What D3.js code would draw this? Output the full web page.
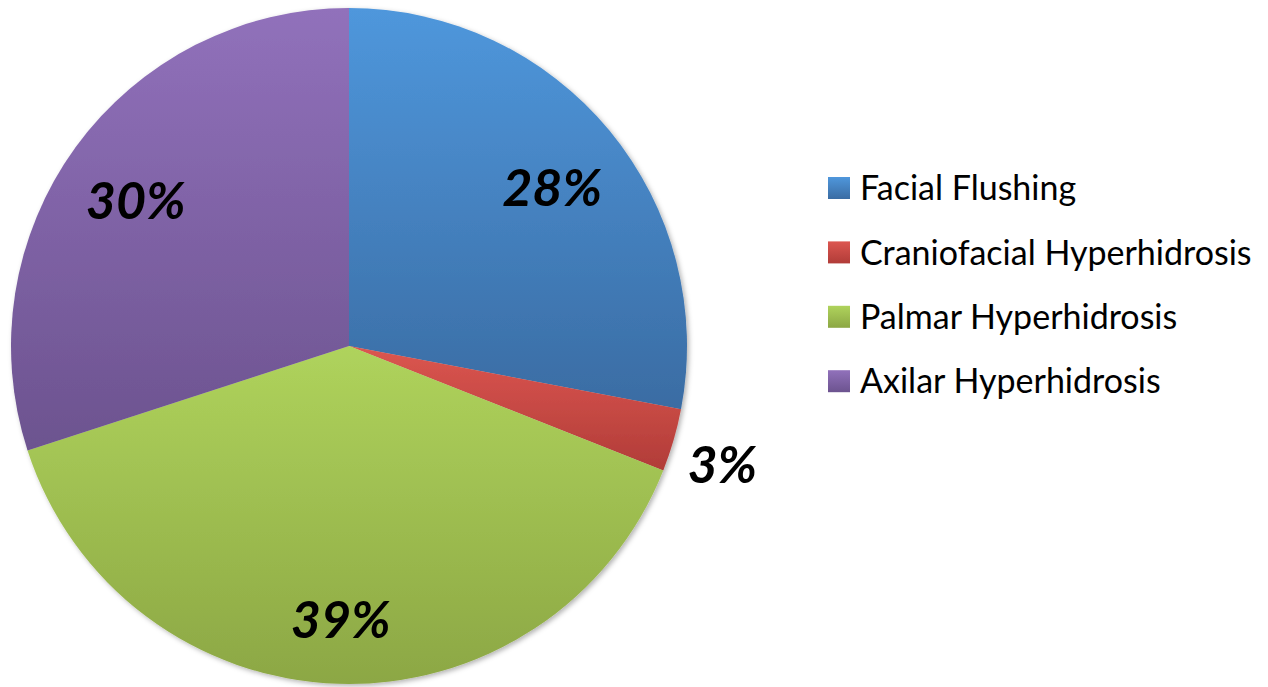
<!DOCTYPE html>
<html>
<head>
<meta charset="utf-8">
<script src="https://cdn.jsdelivr.net/npm/d3@7"></script>
<style>
  body { margin: 0; background: #fff; }
  svg { display: block; }
</style>
</head>
<body>
<script>
// chart data
var categories = ['Facial Flushing', 'Craniofacial Hyperhidrosis', 'Palmar Hyperhidrosis', 'Axilar Hyperhidrosis'];
var values = [28, 3, 39, 30];
var labels = ['28%', '3%', '39%', '30%'];
var colorsTop = ['#4f97dc', '#dc5650', '#afd35c', '#9171bb'];
var colorsBottom = ['#3a6ca3', '#b13c38', '#8ca744', '#6c538f'];

var width = 1268, height = 687;
var cx = 349, cy = 346, radius = 338;

var svg = d3.select('body').append('svg').attr('width', width).attr('height', height);
var defs = svg.append('defs');

// soft shadow round the pie
var filt = defs.append('filter').attr('id', 'shadow').attr('x', '-10%').attr('y', '-10%').attr('width', '120%').attr('height', '120%');
filt.append('feDropShadow').attr('dx', 2).attr('dy', 2).attr('stdDeviation', 2.5).attr('flood-color', '#000').attr('flood-opacity', 0.3);

categories.forEach(function(c, i) {
  var g = defs.append('linearGradient').attr('id', 'grad' + i).attr('x1', 0).attr('y1', 0).attr('x2', 0).attr('y2', 1);
  g.append('stop').attr('offset', '0%').attr('stop-color', colorsTop[i]);
  g.append('stop').attr('offset', '100%').attr('stop-color', colorsBottom[i]);
});

var pie = d3.pie().sort(null).value(function(d) { return d; });
var arcs = pie(values);
var arc = d3.arc().innerRadius(0).outerRadius(radius);

var gPie = svg.append('g').attr('transform', 'translate(' + cx + ',' + cy + ')');

gPie.append('g').attr('filter', 'url(#shadow)')
  .selectAll('path').data(arcs).enter().append('path')
  .attr('d', arc)
  .attr('fill', function(d, i) { return 'url(#grad' + i + ')'; });

// labels: inside for big slices, outside for the tiny one
gPie.selectAll('.lbl').data(arcs).enter().append('text')
  .attr('class', 'lbl')
  .attr('transform', function(d) {
    var r = (d.data < 5) ? radius * 1.15 : radius * 0.78;
    var a = (d.startAngle + d.endAngle) / 2;
    return 'translate(' + (Math.sin(a) * r) + ',' + (-Math.cos(a) * r + 10) + ')';
  })
  .attr('text-anchor', 'middle')
  .attr('dy', '0.35em')
  .attr('font-family', 'Lato, "Open Sans", sans-serif')
  .attr('font-weight', 'bold')
  .attr('font-style', 'italic')
  .attr('font-size', '52px')
  .attr('fill', '#000')
  .text(function(d, i) { return labels[i]; });

// legend
var legend = svg.append('g').attr('transform', 'translate(828,188)');
var rows = legend.selectAll('g').data(categories).enter().append('g')
  .attr('transform', function(d, i) { return 'translate(0,' + (i * 64.4) + ')'; });
rows.append('rect').attr('x', 0).attr('y', -11).attr('width', 22).attr('height', 22)
  .attr('fill', function(d, i) { return 'url(#grad' + i + ')'; });
rows.append('text').attr('x', 32).attr('dy', '0.36em')
  .attr('font-family', 'Lato, "Open Sans", sans-serif')
  .attr('font-size', '34px')
  .attr('fill', '#000')
  .text(function(d) { return d; });
</script>
</body>
</html>
